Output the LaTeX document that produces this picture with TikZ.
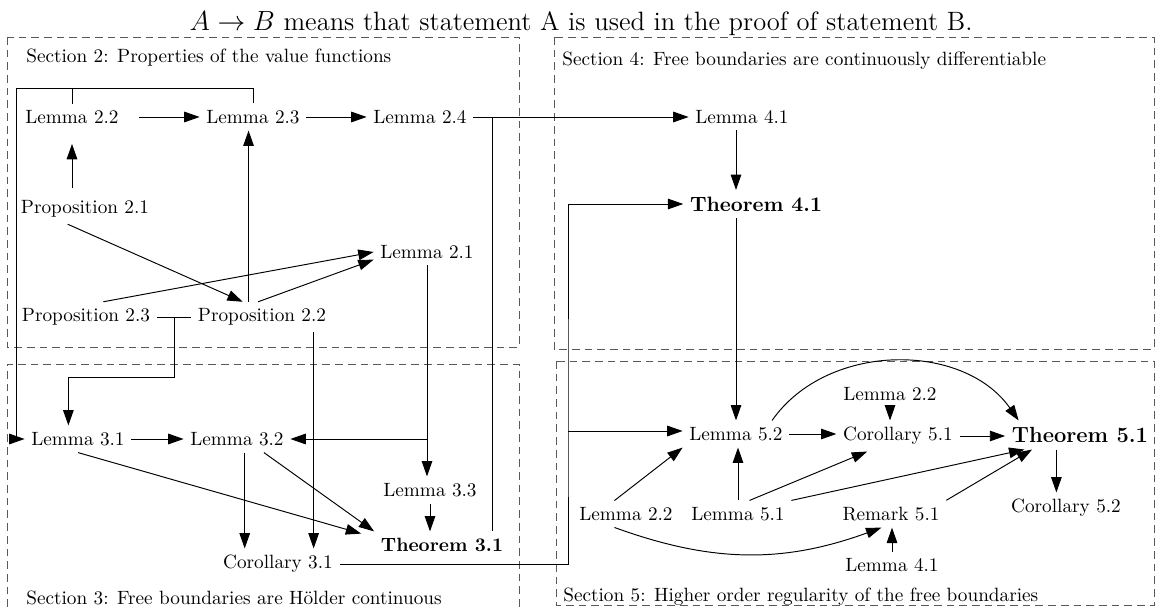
\documentclass[tikz,border=0pt]{standalone}
\usetikzlibrary{arrows.meta,calc}
\begin{document}
\begin{tikzpicture}[x=0.52pt,y=-0.52pt,>={Triangle[length=8pt,width=5.5pt]},
  box/.style={draw=black!65,line width=0.5pt,dash pattern=on 4pt off 2.6pt},
  link/.style={line width=0.5pt},
  arr/.style={link,->},
  seclabel/.style={anchor=base west,inner sep=0pt}]
  \useasboundingbox (0,0) rectangle (1156,607);
  \draw[box] (7,37) rectangle (519,347);
  \draw[box] (7,607) -- (7,364) -- (519,364) -- (519,607);
  \draw[box] (554,37) rectangle (1154,349);
  \draw[box] (556,361) rectangle (1154,605);
  \node[font=\fontsize{13.8}{16}\selectfont] (title) at (581,24) {$A\rightarrow B$ means that statement A is used in the proof of statement B.};
  \node[seclabel] (s2) at (26,63) {Section 2: Properties of the value functions};
  \node[seclabel] (s3) at (26,604) {Section 3: Free boundaries are H\"older continuous};
  \node[seclabel] (s4) at (562,66) {Section 4: Free boundaries are continuously differentiable};
  \node[seclabel] (s5) at (563,601) {Section 5: Higher order regularity of the free boundaries};
  \foreach \n/\x/\y/\t in {l22/72/117/Lemma 2.2, l23/253/117/Lemma 2.3, l24/420/117/Lemma 2.4,
      p21/85/209/Proposition 2.1, p23/86/317/Proposition 2.3, p22/262/317/Proposition 2.2,
      l21/427/252/Lemma 2.1, l31/78/439/Lemma 3.1, l32/237/439/Lemma 3.2, l33/430/490/Lemma 3.3,
      c31/278/564/Corollary 3.1, l41/742/117/Lemma 4.1, l52/736/434/Lemma 5.2,
      l22b/626/514/Lemma 2.2, l51/738/514/Lemma 5.1, c51/898/436/Corollary 5.1,
      l22c/890/394/Lemma 2.2, c52/1066/508/Corollary 5.2, r51/891/514/Remark 5.1,
      l41b/892/565/Lemma 4.1}
    \node (\n) at (\x,\y) {\t};
  \node[font=\bfseries] (t31) at (442,545) {Theorem 3.1};
  \node[font=\fontsize{10.8}{13}\bfseries] (t41) at (756,204) {Theorem 4.1};
  \node[font=\fontsize{11.4}{14}\bfseries] (t51) at (1080,435) {Theorem 5.1};
  \coordinate (bus) at (16,88);
  \coordinate (bend) at (568,431);
  \draw[arr,shorten <=7pt] (l22) -- (l23);
  \draw[arr] (l23) -- (l24);
  \draw[arr] (l24) -- (l41);
  \draw[link] (l24.east) -| ($(t31.north east)+(-17,0)$);
  \draw[link] (l23.north) |- (bus);
  \draw[arr] (l22.north) |- (bus) |- (l31.west);
  \draw[arr,shorten <=3pt,shorten >=7pt] (p21.north -| l22.south) -- (l22.south);
  \draw[arr] ([xshift=-9pt]p21.south) -- ([xshift=-10pt]p22.north);
  \draw[arr] ([xshift=-7pt]p22.north) -- ([xshift=-7pt]p22.north |- l23.south);
  \draw[arr] ([xshift=-2pt]p22.north) -- ([yshift=-4pt]l21.west);
  \draw[arr] ([xshift=9pt]p23.north) -- (l21.west);
  \draw[link] (p23) -- (p22);
  \draw[arr] ($(p23.east)!0.5!(p22.west)$) -- ++(0,60) -| ([xshift=-5pt]l31.north);
  \draw[arr] (l21.south) -- (l21.south |- l33.north);
  \draw[arr] (l21.south |- l32.east) -- (l32.east);
  \draw[arr] (l31) -- (l32);
  \draw[arr] ([xshift=4pt]l32.south) -- ([xshift=4pt]l32.south |- c31.north);
  \draw[arr] ([xshift=-10pt]p22.south east) -- ([xshift=-10pt]p22.south east |- c31.north);
  \draw[arr] ([xshift=14pt]l32.south) -- (t31.north west);
  \draw[arr,shorten >=7pt] (l31.south) -- ([yshift=4pt]t31.west);
  \draw[arr] (l33.south) -- (l33.south |- t31.north);
  \draw[arr] (c31.east) -| (bend) |- (t41.west);
  \draw[arr] (bend) -- (bend -| l52.west);
  \draw[arr] (l52.north |- l41.south) -- (l52.north |- t41.north);
  \draw[arr] (l52.north |- t41.south) -- (l52.north);
  \draw[arr] ([xshift=-6pt]l22b.north) -- (l52.south west);
  \draw[arr] ([xshift=-6pt]l22b.south) to[out=-20,in=200] ([xshift=-5pt]r51.south);
  \draw[arr] (l51.north) -- (l51.north |- l52.south);
  \draw[arr] ([xshift=6pt]l51.north) -- ([xshift=-16pt]c51.south);
  \draw[arr] (l51.north east) -- ([xshift=10pt]t51.south west);
  \draw[arr] (r51.north east) -- ([xshift=14pt]t51.south west);
  \draw[arr] (l41b.north) -- (l41b.north |- r51.south);
  \draw[arr] (l52.east) -- (l52.east -| c51.west);
  \draw[arr] (l22c.south) -- (l22c.south |- c51.north);
  \draw[arr] (c51.east) -- (c51.east -| t51.west);
  \draw[arr] ([xshift=-9pt]l52.north east) to[out=55,in=125] ([xshift=7pt]t51.north west);
  \draw[arr] ([xshift=-5pt]c52.north |- t51.south) -- ([xshift=-5pt]c52.north);
\end{tikzpicture}
\end{document}
